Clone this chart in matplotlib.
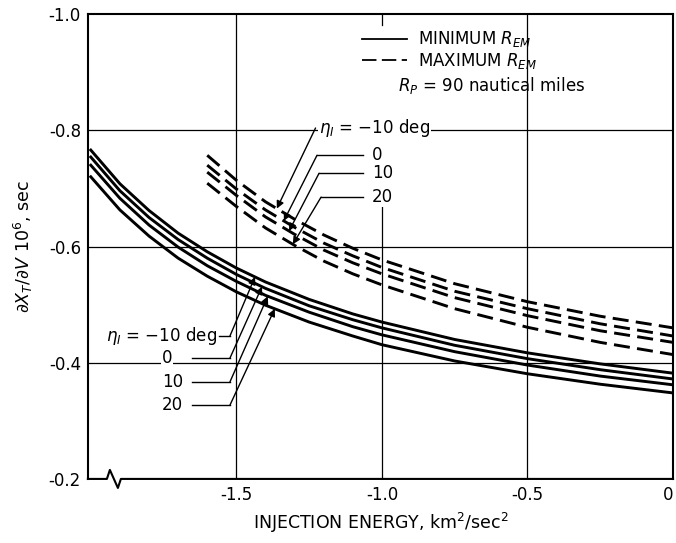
import numpy as np
import matplotlib.pyplot as plt

# injection angle for each curve of a family
eta_labels = ['-10', '0', '10', '20']

# minimum R_EM family (solid)
energy_min = [-2.0, -1.9, -1.8, -1.7, -1.6, -1.5, -1.4, -1.25, -1.1, -1.0, -0.75, -0.5, -0.25, 0.0]
dxdv_min = [
    [-0.766, -0.708, -0.662, -0.623, -0.591, -0.563, -0.539, -0.509, -0.484, -0.470, -0.440, -0.417, -0.398, -0.382],
    [-0.754, -0.696, -0.650, -0.612, -0.580, -0.552, -0.528, -0.498, -0.474, -0.460, -0.430, -0.407, -0.388, -0.372],
    [-0.740, -0.683, -0.637, -0.599, -0.567, -0.540, -0.516, -0.487, -0.462, -0.448, -0.419, -0.396, -0.377, -0.362],
    [-0.720, -0.663, -0.618, -0.580, -0.549, -0.522, -0.499, -0.470, -0.446, -0.431, -0.403, -0.381, -0.363, -0.348],
]

# maximum R_EM family (dashed)
energy_max = [-1.6, -1.5, -1.4, -1.3, -1.2, -1.1, -1.0, -0.75, -0.5, -0.25, 0.0]
dxdv_max = [
    [-0.757, -0.714, -0.677, -0.647, -0.620, -0.597, -0.577, -0.536, -0.505, -0.480, -0.460],
    [-0.740, -0.699, -0.663, -0.633, -0.606, -0.584, -0.564, -0.523, -0.493, -0.467, -0.446],
    [-0.728, -0.688, -0.651, -0.621, -0.594, -0.572, -0.553, -0.512, -0.481, -0.455, -0.435],
    [-0.709, -0.669, -0.632, -0.602, -0.575, -0.553, -0.534, -0.493, -0.461, -0.435, -0.414],
]

xticks = [-1.5, -1.0, -0.5, 0.0]
xticklabels = ['-1.5', '-1.0', '-0.5', '0']
yticks = [-1.0, -0.8, -0.6, -0.4, -0.2]
yticklabels = ['-1.0', '-0.8', '-0.6', '-0.4', '-0.2']

plt.rcParams['font.family'] = ['DejaVu Sans']
plt.rcParams['mathtext.fontset'] = 'dejavusans'
fs = 12

fig = plt.figure(figsize=(6.76, 5.43), dpi=100)
ax = fig.add_axes([0.130, 0.118, 0.8656, 0.856])
ax.set_xlim(-2.01, 0.0)
ax.set_ylim(-0.2, -1.0)

# grid (the -1.0 line is broken by the legend block)
for yv in [-0.8, -0.6, -0.4]:
    ax.axhline(yv, color='k', lw=0.9, zorder=1)
for xv in [-1.5, -0.5]:
    ax.axvline(xv, color='k', lw=0.9, zorder=1)
ax.axvline(-1.0, ymin=0.0, ymax=0.589, color='k', lw=0.9, zorder=1)
ax.axvline(-1.0, ymin=0.976, ymax=1.0, color='k', lw=0.9, zorder=1)

for i, lab in enumerate(eta_labels):
    ax.plot(energy_min, dxdv_min[i], color='k', lw=2.1, zorder=3, solid_joinstyle='round')
    ax.plot(energy_max, dxdv_max[i], color='k', lw=2.1, zorder=3, dashes=(5.5, 2.5))

arrow_kw = dict(arrowstyle='-|>', color='k', lw=1.0, mutation_scale=11, shrinkA=0, shrinkB=0)
box = dict(facecolor='white', edgecolor='none', pad=0.5)

# arrows for the dashed family, labels to the right
dash_tip_x = [-1.361, -1.337, -1.319, -1.306]
dash_elbows = [(-1.228, -0.804), (-1.223, -0.757), (-1.216, -0.726), (-1.209, -0.685)]
for i, lab in enumerate(eta_labels):
    elb = dash_elbows[i]
    tip = (dash_tip_x[i], np.interp(dash_tip_x[i], energy_max, dxdv_max[i]))
    ax.annotate('', xy=tip, xytext=elb, arrowprops=arrow_kw, zorder=4)
    if i == 0:
        ax.text(elb[0] + 0.012, elb[1], r'$\eta_I$ = −10 deg', fontsize=fs, ha='left', va='center',
                zorder=5, bbox=box)
    else:
        ax.plot([elb[0], -1.065], [elb[1], elb[1]], color='k', lw=1.0, zorder=4)
        ax.text(-1.034, elb[1], lab, fontsize=fs, ha='left', va='center', zorder=5, bbox=box)

# arrows for the solid family, labels to the left
solid_tip_x = [-1.436, -1.412, -1.392, -1.368]
solid_elbows = [(-1.522, -0.446), (-1.522, -0.408), (-1.522, -0.367), (-1.522, -0.327)]
for i, lab in enumerate(eta_labels):
    elb = solid_elbows[i]
    tip = (solid_tip_x[i], np.interp(solid_tip_x[i], energy_min, dxdv_min[i]))
    ax.annotate('', xy=tip, xytext=elb, arrowprops=arrow_kw, zorder=4)
    if i == 0:
        ax.plot([elb[0], -1.56], [elb[1], elb[1]], color='k', lw=1.0, zorder=4)
        ax.text(-1.567, elb[1], r'$\eta_I$ = −10 deg', fontsize=fs, ha='right', va='center',
                zorder=5, bbox=box)
    else:
        ax.plot([elb[0], -1.653], [elb[1], elb[1]], color='k', lw=1.0, zorder=4)
        ax.text(-1.756, elb[1], lab, fontsize=fs, ha='left', va='center', zorder=5, bbox=box)

# legend block
ax.plot([-1.069, -0.914], [-0.957, -0.957], color='k', lw=1.3, zorder=4)
ax.text(-0.876, -0.957, r'MINIMUM $R_{EM}$', fontsize=fs, ha='left', va='center', zorder=5)
ax.plot([-1.069, -0.914], [-0.921, -0.921], color='k', lw=1.3, dashes=(8, 3), zorder=4)
ax.text(-0.876, -0.919, r'MAXIMUM $R_{EM}$', fontsize=fs, ha='left', va='center', zorder=5)
ax.text(-0.945, -0.878, r'$R_P$ = 90 nautical miles', fontsize=fs, ha='left', va='center', zorder=5)

# axes frame with break symbol on the bottom edge
for side in ['left', 'right', 'top']:
    ax.spines[side].set_linewidth(1.5)
ax.spines['bottom'].set_visible(False)
ax.plot([0, 0.0325, 0.0376, 0.0513, 0.0564, 1.0], [0, 0, 0.0194, -0.0194, 0, 0],
        transform=ax.transAxes, color='k', lw=1.5, clip_on=False, zorder=6)

ax.set_xticks(xticks)
ax.set_xticklabels(xticklabels, fontsize=fs)
ax.get_xticklabels()[-1].set_ha('right')
ax.set_yticks(yticks)
ax.set_yticklabels(yticklabels, fontsize=fs)
ax.tick_params(length=0, pad=5)
ax.set_xlabel(r'INJECTION ENERGY, km$^2$/sec$^2$', fontsize=fs + 0.5, labelpad=5)
ax.set_ylabel(r'$\partial X_T/\partial V\ 10^6$, sec', fontsize=fs + 0.5, labelpad=10)

plt.savefig('out.png', dpi=100)
